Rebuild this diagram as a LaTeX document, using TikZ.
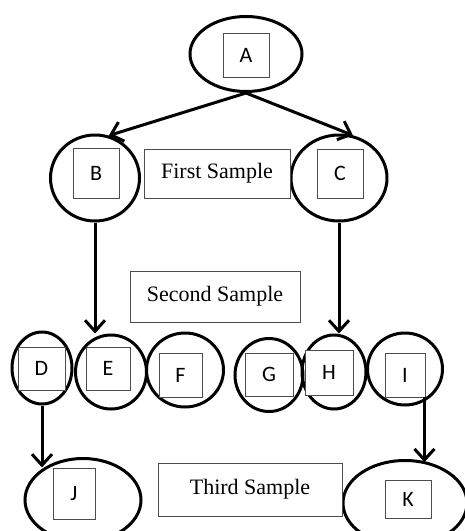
\documentclass[tikz,border=0pt]{standalone}
\usepackage{fontspec}
\usepackage{tikz}
\usetikzlibrary{arrows.meta,shapes.geometric}
\newfontfamily\letterfont{Carlito}
\newfontfamily\samplefont{Liberation Serif}
\tikzstyle{ring}=[draw, ellipse, line width=3pt, inner sep=0pt]
\tikzstyle{letter}=[draw=black!70, fill=white, line width=0.9pt, inner sep=0pt, font=\letterfont\fontsize{22}{26}\selectfont]
\tikzstyle{sample}=[draw=black!70, fill=white, line width=0.9pt, inner sep=0pt, font=\samplefont\fontsize{22}{26}\selectfont]

\begin{document}
\begin{tikzpicture}[x=1pt,y=-1pt,>={Straight Barb[length=11pt,width=20pt,line width=3pt]}]
  \clip (0,0) rectangle (465,531);
  \fill[white] (0,0) rectangle (465,531);
  % rings
  \node [ring,minimum width=112pt,minimum height=75pt] (A) at (246,54) {};
  \node [ring,minimum width=89pt,minimum height=86pt] (B) at (95,178) {};
  \node [ring,minimum width=96pt,minimum height=86pt] (C) at (339,178) {};
  \node [ring,minimum width=60pt,minimum height=72pt] (D) at (42,368) {};
  \node [ring,minimum width=71pt,minimum height=74pt] (E) at (111,372) {};
  \node [ring,minimum width=77pt,minimum height=74pt] (F) at (185,370) {};
  \node [ring,minimum width=68pt,minimum height=73pt] (G) at (269,375) {};
  \node [ring,minimum width=64pt,minimum height=74pt] (H) at (334,372) {};
  \node [ring,minimum width=75pt,minimum height=72pt] (I) at (405,369) {};
  \node [ring,minimum width=116pt,minimum height=83pt] (J) at (83,500) {};
  \node [ring,minimum width=124pt,minimum height=85pt] (K) at (405,503) {};
  % letters
  \node [letter,minimum width=46pt,minimum height=44pt] (Abox) at (246,55) {A};
  \node [letter,minimum width=46pt,minimum height=50pt] (Bbox) at (96,173) {B};
  \node [letter,minimum width=46pt,minimum height=49pt] (Cbox) at (340,173.5) {C};
  \node [letter,minimum width=47pt,minimum height=43pt] (Dbox) at (41.5,368.5) {D};
  \node [letter,minimum width=44pt,minimum height=43pt] (Ebox) at (108,368.5) {E};
  \node [letter,minimum width=43pt,minimum height=44pt] (Fbox) at (180.5,375) {F};
  \node [letter,minimum width=48pt,minimum height=43pt] (Gbox) at (269,374.5) {G};
  \node [letter,minimum width=48pt,minimum height=45pt] (Hbox) at (329,372.5) {H};
  \node [letter,minimum width=40pt,minimum height=44pt] (Ibox) at (405,375) {I};
  \node [letter,minimum width=42pt,minimum height=51pt] (Jbox) at (74,493.5) {J};
  \node [letter,minimum width=46pt,minimum height=38pt] (Kbox) at (408,499) {K};
  % samples
  \node [sample,minimum width=146pt,minimum height=49pt] (first) at (217,173.5) {First Sample};
  \node [sample,minimum width=170pt,minimum height=51pt] (second) at (215,296.5) {Second Sample};
  \node [sample,minimum width=184pt,minimum height=53pt] (third) at (250,489.5) {Third Sample};
  \path[->,line width=3pt]
    (A.south) edge (B.72)
    (A.south) edge (C.72)
    (B.south) edge (B.south |- E.north)
    (C.south) edge (C.south |- H.north)
    (D.south) edge (D.south |- J.140)
    ([xshift=-1pt]Ibox.south east) edge ([xshift=-1pt]Ibox.south east |- K.60);
\end{tikzpicture}
\end{document}
